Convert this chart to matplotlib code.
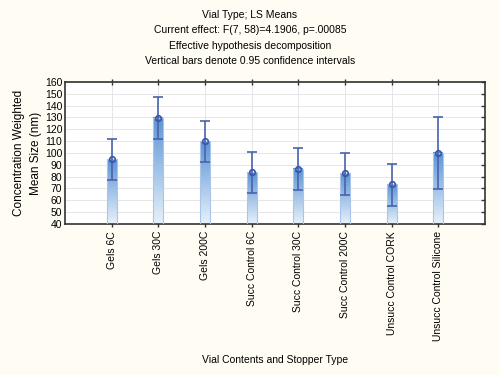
import numpy as np
import matplotlib.pyplot as plt
from matplotlib.colors import LinearSegmentedColormap

plt.rcParams['font.family'] = ['Liberation Sans', 'DejaVu Sans']

groups = ['Gels 6C', 'Gels 30C', 'Gels 200C', 'Succ Control 6C', 'Succ Control 30C',
          'Succ Control 200C', 'Unsucc Control CORK', 'Unsucc Control Silicone']
means = [94.7, 129.9, 110.1, 83.8, 86.7, 82.8, 73.5, 100.3]
ci_low = [76.9, 112.1, 92.2, 66.0, 68.7, 64.8, 55.2, 69.6]
ci_high = [111.8, 147.4, 127.3, 101.0, 104.2, 100.3, 90.4, 130.4]

titles = ['Vial Type; LS Means',
          'Current effect: F(7, 58)=4.1906, p=.00085',
          'Effective hypothesis decomposition',
          'Vertical bars denote 0.95 confidence intervals']

bg = '#fffcf3'
fig = plt.figure(figsize=(5, 3.75), dpi=100, facecolor=bg)
ax = fig.add_axes([0.13, 0.4027, 0.84, 0.3787])

x = np.arange(1, len(groups) + 1)
ymin = 40
cmap = LinearSegmentedColormap.from_list('bar', ['#e8f1fb', '#5a94d4'])
grad = np.linspace(0, 1, 256).reshape(-1, 1)
w = 0.21
for xi, m in zip(x, means):
    ax.imshow(grad, extent=[xi - w / 2, xi + w / 2, ymin, m], origin='lower',
              cmap=cmap, aspect='auto', zorder=2)
    ax.bar(xi, m - ymin, bottom=ymin, width=w, facecolor='none',
           edgecolor='#a9c5ea', linewidth=0.8, zorder=3)

means_a = np.array(means)
yerr = [means_a - np.array(ci_low), np.array(ci_high) - means_a]
ax.errorbar(x, means, yerr=yerr, fmt='o', color='#3b56a8', ecolor='#4a62ae',
            mfc='none', mec='#3b56a8', ms=4, mew=1.2, elinewidth=1.2,
            capsize=3.5, capthick=1.2, zorder=4)

ax.set_xlim(0, 9)
ax.set_ylim(40, 160)
ax.set_yticks(range(40, 161, 10))
ax.set_xticks(x)
ax.set_xticklabels(groups, rotation=90, fontsize=7.5)
ax.tick_params(axis='y', labelsize=7.5, direction='in', length=3, width=1,
               left=False, right=True, pad=2, color='#333333')
ax.tick_params(axis='x', direction='inout', length=4, width=1, pad=3,
               top=True, color='#333333')
ax.grid(True, color='#e6e6e6', linewidth=0.7, zorder=0)
ax.set_axisbelow(True)
ax.set_facecolor('white')
for s in ax.spines.values():
    s.set_color('#333333')
    s.set_linewidth(1.2)

ax.set_ylabel('Concentration Weighted\nMean Size (nm)', fontsize=8.5, labelpad=2,
              linespacing=1.5)
ax.set_xlabel('Vial Contents and Stopper Type', fontsize=7.5, labelpad=10)

for i, t in enumerate(titles):
    fig.text(0.5, 1 - (15 + 15.3 * i) / 375, t, ha='center', va='center', fontsize=7.5)

fig.savefig('out.png', dpi=100, facecolor=bg)
